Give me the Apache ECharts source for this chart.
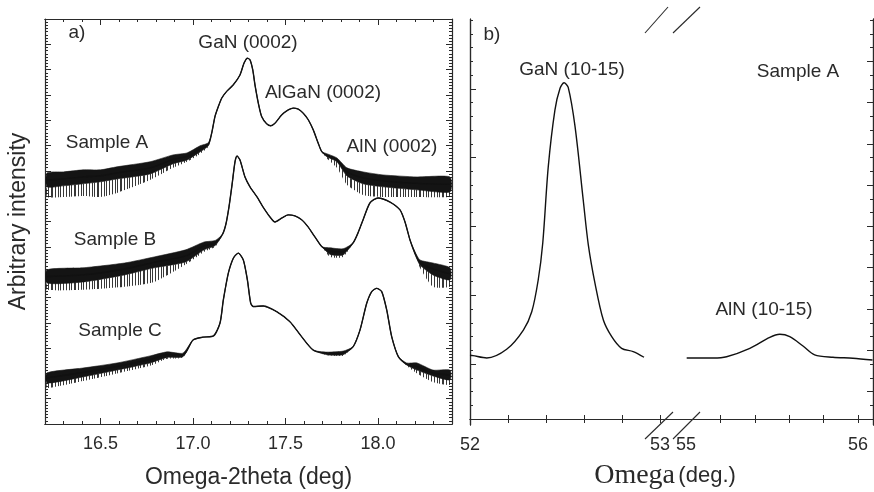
<!DOCTYPE html>
<html><head><meta charset="utf-8">
<script src="https://cdn.jsdelivr.net/npm/echarts@6/dist/echarts.min.js"></script>
<style>html,body{margin:0;padding:0;background:#fff}#c{width:874px;height:492px}</style>
</head><body><div id="c"></div>
<script>
// ---- Panel a) : Omega-2theta scans
// [x (deg), lowest noise spike, noise core lower edge, noise core upper edge] (arbitrary units)
const sampleA = [
  [16.211, 8.97, 9.37, 9.92], [16.30, 8.97, 9.41, 9.96], [16.405, 9.01, 9.49, 10.04], [16.50, 8.97, 9.57, 10.04],
  [16.589, 9.13, 9.68, 10.16], [16.768, 9.64, 9.88, 10.36], [16.892, 10.12, 10.28, 10.63], [16.968, 10.36, 10.43, 10.71],
  [17.038, 10.67, 10.75, 10.99], [17.083, 10.95, 10.99, 11.11], [17.101, 11.49, 11.49, 11.49], [17.119, 12.15, 12.15, 12.15],
  [17.137, 12.54, 12.54, 12.54], [17.155, 12.87, 12.87, 12.87], [17.182, 13.14, 13.14, 13.14], [17.218, 13.40, 13.40, 13.40],
  [17.254, 13.79, 13.79, 13.79], [17.276, 14.26, 14.26, 14.26], [17.294, 14.45, 14.45, 14.45], [17.308, 14.39, 14.39, 14.39],
  [17.323, 13.99, 13.99, 13.99], [17.335, 13.40, 13.40, 13.40], [17.353, 12.68, 12.68, 12.68], [17.371, 12.15, 12.15, 12.15],
  [17.398, 11.86, 11.86, 11.86], [17.420, 11.78, 11.78, 11.78], [17.443, 11.88, 11.88, 11.88], [17.479, 12.21, 12.21, 12.21],
  [17.515, 12.41, 12.41, 12.41], [17.542, 12.48, 12.48, 12.48], [17.569, 12.44, 12.44, 12.44], [17.596, 12.28, 12.28, 12.28],
  [17.623, 12.02, 12.02, 12.02], [17.650, 11.62, 11.62, 11.62], [17.677, 11.09, 11.09, 11.09], [17.696, 10.76, 10.76, 10.76],
  [17.723, 10.50, 10.56, 10.68], [17.778, 10.12, 10.36, 10.51], [17.832, 9.45, 9.80, 10.12], [17.919, 9.05, 9.49, 9.96],
  [18.027, 8.97, 9.37, 9.84], [18.211, 8.97, 9.25, 9.76], [18.389, 8.97, 9.17, 9.76]
];
const sampleB = [
  [16.211, 5.30, 5.57, 6.09], [16.405, 5.30, 5.61, 6.17], [16.63, 5.42, 5.89, 6.36], [16.79, 5.61, 6.17, 6.60],
  [16.96, 6.30, 6.40, 6.88], [17.06, 6.80, 6.88, 7.19], [17.12, 7.00, 7.05, 7.25], [17.160, 7.50, 7.50, 7.50],
  [17.178, 7.90, 7.90, 7.90], [17.195, 8.60, 8.60, 8.60], [17.211, 9.45, 9.45, 9.45],
  [17.227, 10.36, 10.36, 10.36], [17.238, 10.59, 10.59, 10.59], [17.254, 10.43, 10.43, 10.43], [17.281, 9.76, 9.76, 9.76],
  [17.308, 9.37, 9.37, 9.37], [17.346, 8.97, 8.97, 8.97], [17.378, 8.58, 8.58, 8.58], [17.416, 8.18, 8.18, 8.18],
  [17.443, 7.98, 7.98, 7.98], [17.481, 8.14, 8.14, 8.14], [17.514, 8.26, 8.26, 8.26], [17.551, 8.22, 8.22, 8.22],
  [17.589, 8.06, 8.06, 8.06], [17.622, 7.79, 7.79, 7.79], [17.659, 7.39, 7.39, 7.39], [17.697, 7.00, 7.00, 7.00],
  [17.741, 6.60, 6.70, 6.96], [17.811, 6.60, 6.68, 6.92], [17.865, 7.15, 7.15, 7.15], [17.892, 7.55, 7.55, 7.55],
  [17.919, 8.06, 8.06, 8.06], [17.957, 8.74, 8.74, 8.74], [18.000, 8.93, 8.93, 8.93], [18.065, 8.77, 8.77, 8.77],
  [18.119, 8.46, 8.46, 8.46], [18.146, 7.98, 7.98, 7.98], [18.173, 7.27, 7.27, 7.27], [18.200, 6.76, 6.70, 6.80],
  [18.227, 6.17, 6.28, 6.48], [18.297, 5.42, 5.89, 6.36], [18.389, 5.42, 5.69, 6.17]
];
const sampleC = [
  [16.211, 1.42, 1.62, 2.02], [16.405, 1.70, 1.86, 2.21], [16.589, 2.00, 2.13, 2.41], [16.768, 2.30, 2.41, 2.69],
  [16.860, 2.58, 2.63, 2.85], [16.946, 2.63, 2.66, 2.80], [17.000, 3.32, 3.32, 3.32], [17.054, 3.43, 3.43, 3.43],
  [17.111, 3.48, 3.48, 3.48], [17.146, 3.99, 3.99, 3.99], [17.164, 4.90, 4.90, 4.90], [17.191, 5.96, 5.96, 5.96],
  [17.218, 6.55, 6.55, 6.55], [17.245, 6.75, 6.75, 6.75], [17.272, 6.48, 6.48, 6.48], [17.294, 5.69, 5.69, 5.69],
  [17.312, 4.77, 4.77, 4.77], [17.326, 4.64, 4.64, 4.64], [17.380, 4.66, 4.66, 4.66], [17.452, 4.44, 4.44, 4.44],
  [17.524, 4.04, 4.04, 4.04], [17.587, 3.45, 3.45, 3.45], [17.650, 2.92, 2.92, 2.92], [17.722, 2.72, 2.74, 2.84],
  [17.812, 2.70, 2.74, 2.88], [17.866, 3.06, 3.06, 3.06], [17.903, 3.72, 3.72, 3.72], [17.939, 4.77, 4.77, 4.77],
  [17.966, 5.23, 5.23, 5.23], [17.993, 5.36, 5.36, 5.36], [18.020, 5.23, 5.23, 5.23], [18.047, 4.51, 4.51, 4.51],
  [18.074, 3.45, 3.45, 3.45], [18.110, 2.66, 2.66, 2.66], [18.155, 2.30, 2.33, 2.41], [18.211, 2.00, 2.13, 2.41],
  [18.297, 1.66, 1.90, 2.13], [18.389, 1.54, 1.74, 2.13]
];
// ---- Panel b) : Omega scans of Sample A
const ganOmega = [
  [52.000, 4.64], [52.016, 4.61], [52.088, 4.44], [52.193, 5.07], [52.281, 6.47], [52.325, 7.80],
  [52.359, 10.11], [52.383, 12.80], [52.412, 18.35], [52.447, 22.47], [52.474, 24.05],
  [52.495, 24.45], [52.517, 24.12], [52.553, 21.26], [52.596, 15.93], [52.623, 12.65],
  [52.658, 9.87], [52.702, 7.20], [52.746, 5.99], [52.798, 5.14], [52.859, 4.90], [52.916, 4.49]
];
const alnOmega = [
  [55.004, 4.44], [55.158, 4.44], [55.236, 4.53], [55.371, 5.14], [55.487, 5.94], [55.545, 6.16],
  [55.603, 5.99], [55.680, 5.31], [55.748, 4.66], [55.854, 4.49], [55.970, 4.42], [56.084, 4.29]
];
// ---- Tick values
const xMajorA = [16.5, 17.0, 17.5, 18.0];
const xMinorA = [16.3, 16.4, 16.6, 16.7, 16.8, 16.9, 17.1, 17.2, 17.3, 17.4, 17.6, 17.7, 17.8, 17.9, 18.1, 18.2, 18.3];
const xTicksB1 = [52.2, 52.4, 52.6, 52.8, 53.0];
const xLabelsB1 = [52, 53];
const xTicksB2 = [55.2, 55.4, 55.6, 55.8, 56.0];
const xLabelsB2 = [55, 56];
const yMinorB = [0,1,2,3,4,5,6,7,8,9,10,11,12,13,14,15,16,17,18,19,20,21,22,23,24,25,26,27,28,29];
const yMajorBLeft = [4, 9, 14, 19, 24];
const yMajorBRight = [2, 5, 8, 11, 14, 17, 20, 23, 26];

const FONT = '"Liberation Sans", Arial, sans-serif';
const INK = '#2a2a2a';
const axisLine = { show: true, lineStyle: { color: INK, width: 1.2 } };

// vertical-hairline texture used to render the noise spikes region
const pat = document.createElement('canvas');
pat.width = 23; pat.height = 4;
(function () {
  const g = pat.getContext('2d');
  g.fillStyle = 'rgba(20,20,20,0.85)';
  [0, 2, 5, 6, 9, 12, 14, 17, 20].forEach(x => g.fillRect(x, 0, 1, 4));
})();

function xAx(grid, pos, min, max, ticks, len, labels, extra) {
  return Object.assign({
    type: 'value', gridIndex: grid, position: pos, min: min, max: max,
    axisLine: axisLine, splitLine: { show: false },
    axisTick: { show: true, inside: true, length: len, customValues: ticks, lineStyle: { color: INK, width: 1 } },
    axisLabel: labels ? { show: true, customValues: labels, color: INK, fontSize: 18, fontFamily: FONT, margin: 11,
      formatter: v => (grid === 0 ? v.toFixed(1) : String(Math.round(v))) } : { show: false }
  }, extra || {});
}
function yAx(grid, pos, min, max, ticks, len, extra) {
  return Object.assign({
    type: 'value', gridIndex: grid, position: pos, min: min, max: max,
    axisLine: axisLine, splitLine: { show: false },
    axisTick: { show: true, inside: true, length: len, customValues: ticks, lineStyle: { color: INK, width: 1 } },
    axisLabel: { show: false }
  }, extra || {});
}

const yMinB = -0.436, yMaxB = 29.09;
const leftY = (pos) => ({
  type: 'value', gridIndex: 0, position: pos, min: 0, max: 16, interval: 1,
  axisLine: axisLine, splitLine: { show: false }, axisLabel: { show: false },
  axisTick: { show: true, inside: true, length: 6, lineStyle: { color: INK } },
  minorTick: { show: true, splitNumber: 8, length: 3, lineStyle: { color: INK } }
});

function bandSeries(s, iLo, iHi, fill, stroke) {
  return {
    type: 'custom', xAxisIndex: 0, yAxisIndex: 0, silent: true, clip: true,
    data: [[s[0][0], s[0][iLo]]], encode: { x: 0, y: 1 },
    renderItem: function (params, api) {
      const up = s.map(p => api.coord([p[0], p[iHi]]));
      const lo = s.slice().reverse().map(p => api.coord([p[0], p[iLo]]));
      return { type: 'polygon', shape: { points: up.concat(lo), smooth: 0.2 },
        style: { fill: fill, stroke: stroke, lineWidth: stroke ? 0.6 : 0 } };
    }
  };
}

const series = [];
[sampleA, sampleB, sampleC].forEach((s) => {
  series.push(bandSeries(s, 1, 2, { image: pat, repeat: 'repeat' }, null));   // spikes
  series.push(bandSeries(s, 2, 3, '#141414', '#141414'));                      // dense noise core
  series.push({
    type: 'line', xAxisIndex: 0, yAxisIndex: 0, symbol: 'none', silent: true, smooth: 0.25,
    data: s.map(p => [p[0], (p[2] + p[3]) / 2]), lineStyle: { color: '#111', width: 1.4 }
  });
});
series.push({ type: 'line', xAxisIndex: 4, yAxisIndex: 2, symbol: 'none', smooth: 0.3,
  data: ganOmega, lineStyle: { color: '#111', width: 1.4 } });
series.push({ type: 'line', xAxisIndex: 6, yAxisIndex: 4, symbol: 'none', smooth: 0.3,
  data: alnOmega, lineStyle: { color: '#111', width: 1.4 } });

const txt = (x, y, t, size) => ({ type: 'text', x: x, y: y, silent: true,
  style: { text: t, fill: INK, font: (size || 19) + 'px ' + FONT, align: 'center', verticalAlign: 'middle' } });
const slash = (x1, y1, x2, y2) => ({ type: 'line', silent: true, shape: { x1, y1, x2, y2 },
  style: { stroke: INK, lineWidth: 1.1 } });

const option = {
  animation: false,
  backgroundColor: '#fff',
  grid: [
    { left: 45, top: 19, width: 407, height: 405, outerBoundsMode: 'none' },
    { left: 470, top: 19, width: 216, height: 406, outerBoundsMode: 'none' },
    { left: 686, top: 19, width: 187, height: 406, outerBoundsMode: 'none' }
  ],
  xAxis: [
    xAx(0, 'bottom', 16.2, 18.4, xMajorA, 6, xMajorA, {
      name: 'Omega-2theta (deg)', nameLocation: 'middle', nameGap: 42,
      nameTextStyle: { color: INK, fontSize: 23, fontFamily: FONT } }),
    xAx(0, 'bottom', 16.2, 18.4, xMinorA, 3, null),
    xAx(0, 'top', 16.2, 18.4, xMajorA, 6, null),
    xAx(0, 'top', 16.2, 18.4, xMinorA, 3, null),
    xAx(1, 'bottom', 52, 53.137, xTicksB1, 4, xLabelsB1),
    xAx(1, 'top', 52, 53.137, xTicksB1, 4, null),
    xAx(2, 'bottom', 55, 56.087, xTicksB2, 4, xLabelsB2),
    xAx(2, 'top', 55, 56.087, xTicksB2, 4, null)
  ],
  yAxis: [
    Object.assign(leftY('left'), { name: 'Arbitrary intensity', nameLocation: 'middle', nameGap: 15,
      nameTextStyle: { color: INK, fontSize: 23, fontFamily: FONT } }),
    leftY('right'),
    yAx(1, 'left', yMinB, yMaxB, yMajorBLeft, 6),
    yAx(1, 'left', yMinB, yMaxB, yMinorB, 3),
    yAx(2, 'right', yMinB, yMaxB, yMajorBRight, 6),
    yAx(2, 'right', yMinB, yMaxB, yMinorB, 3),
    yAx(2, 'left', yMinB, yMaxB, [], 0, { axisLine: { show: false }, axisTick: { show: false } })
  ],
  series: series,
  graphic: [
    txt(77, 33, 'a)'),
    txt(248, 43, 'GaN (0002)'),
    txt(323, 93, 'AlGaN (0002)'),
    txt(107, 143, 'Sample A'),
    txt(392, 147, 'AlN (0002)'),
    txt(115, 240, 'Sample B'),
    txt(120, 331, 'Sample C'),
    txt(492, 35, 'b)'),
    txt(572, 70, 'GaN (10-15)'),
    txt(798, 72, 'Sample A'),
    txt(764, 310, 'AlN (10-15)'),
    { type: 'text', x: 665, y: 476, silent: true,
      style: { text: '{a|Omega} {b|(deg.)}', align: 'center', verticalAlign: 'middle', fill: INK,
        rich: { a: { fontFamily: '"Liberation Serif", "Times New Roman", serif', fontSize: 28, fill: INK },
                b: { fontFamily: FONT, fontSize: 22, fill: INK } } } },
    slash(645, 33, 668, 7), slash(673, 33, 700, 7),
    slash(645, 439, 673, 412), slash(673, 439, 700, 412)
  ]
};
const chart = echarts.init(document.getElementById('c'), null, { renderer: 'canvas' });
chart.setOption(option);
</script>
</body></html>
